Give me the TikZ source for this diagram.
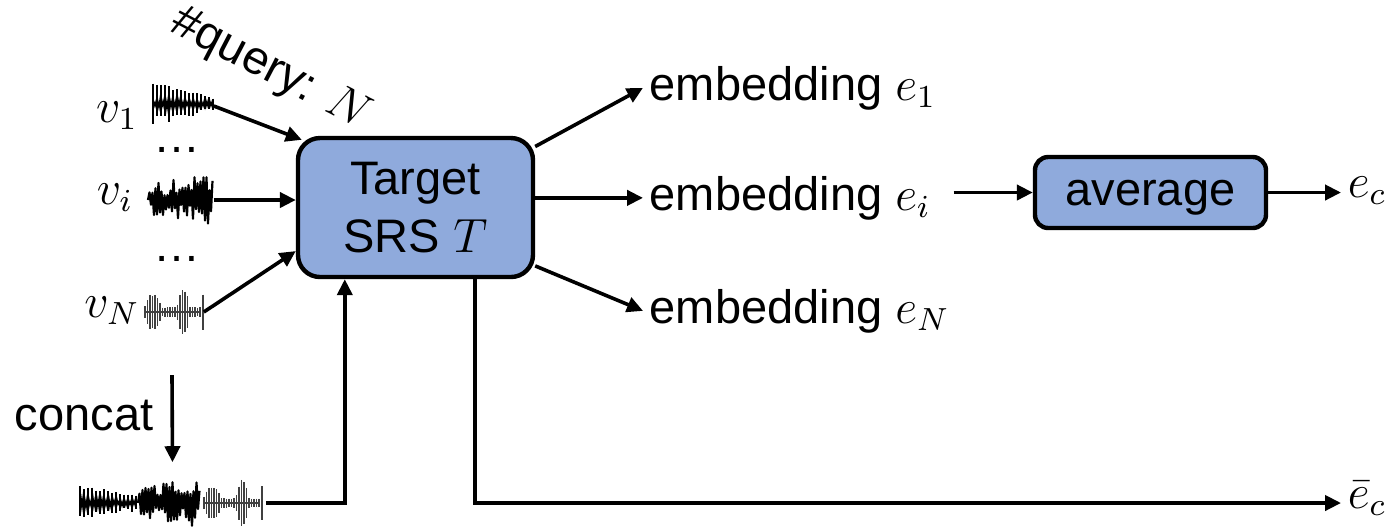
\documentclass[tikz,border=0pt]{standalone}
\usepackage{fontspec}
\setmainfont{Liberation Sans}
\usetikzlibrary{arrows.meta,calc}
\definecolor{boxblue}{HTML}{8FAADC}
\definecolor{wavegray}{HTML}{404040}
\newcommand{\dgfont}{\fontsize{11.75}{14.5}\selectfont}
% spiky decaying waveform: x0, number of spikes, yc, amp, decay
\newcommand{\wavespike}[5]{%
  \foreach \wk in {0,...,#2}{%
    \pgfmathsetmacro{\wt}{\wk/#2}%
    \pgfmathsetmacro{\wx}{#1+4*\wk}%
    \pgfmathsetmacro{\wa}{#4*(1-#5*\wt)*(0.8+0.2*rnd)}%
    \pgfmathsetmacro{\wb}{\wa*(0.6+0.5*rnd)}%
    \draw[wave] (\wx,#3-\wa) -- (\wx,#3+\wb);%
  }%
  \pgfmathtruncatemacro{\wm}{4*#2}%
  \draw[wave, line width=0.4pt] (#1,#3) \foreach \wk in {1,...,\wm} { -- ({#1+\wk},{#3+cos(180*\wk)*5*(1-0.5*\wk/\wm)*(0.3+0.7*rnd)}) };%
}
% noisy waveform (zigzag): x0, n, yc, amp
\newcommand{\wavenoise}[4]{%
  \draw[wave, line width=0.55pt, line join=round] (#1,#3) \foreach \wk in {1,...,#2} { -- ({#1+1.5*\wk},{#3+cos(180*\wk)*#4*(0.6+0.4*\wk/#2)*(0.2+0.8*rnd)}) };%
}
% two-burst waveform: x0, n, yc, amp
\newcommand{\waveburst}[4]{%
  \draw[wave, wavegray, line width=0.4pt] (#1,#3) -- (#1+2.5*#2,#3);%
  \foreach \wk in {0,...,#2}{%
    \pgfmathsetmacro{\wt}{\wk/#2}%
    \pgfmathsetmacro{\wx}{#1+2.5*\wk}%
    \pgfmathsetmacro{\we}{0.2+0.55*max(0,1-((\wt-0.15)/0.16)^2)+0.8*max(0,1-((\wt-0.7)/0.12)^2)}%
    \pgfmathsetmacro{\wa}{#4*\we*(0.85+0.15*rnd)}%
    \draw[wave, wavegray, line width=0.45pt] (\wx,#3-\wa) -- (\wx,#3+\wa);%
  }%
  \draw[wave, wavegray, line width=0.45pt] (#1+2.5*#2+3,#3-0.7*#4) -- (#1+2.5*#2+3,#3+0.7*#4);%
}
\tikzset{
  blk/.style={draw=black, line width=1.1pt, fill=boxblue, rounded corners=5.5pt,
    inner sep=0pt, align=center, font=\dgfont},
  conn/.style={line width=0.9pt, -{Triangle[length=4pt,width=3.8pt]}},
  lbl/.style={inner sep=1.5pt, font=\dgfont},
  wave/.style={line width=0.3pt, black},
  wavebox/.style={inner sep=0pt, minimum height=11.5pt},
}
\begin{document}
\begin{tikzpicture}[x=0.25pt, y=-0.25pt]
\useasboundingbox (0,0) rectangle (1396,529);
\pgfmathsetseed{12345}

% main box
\node[blk, minimum width=58.75pt, minimum height=34.75pt] (box) at (415.5,207.5) {Target\\SRS $T$};
\node[blk, rounded corners=3.3pt, minimum width=57.75pt, minimum height=17.75pt,
  text height=6.5pt, text depth=0pt] (avg) at (1150.5,192.5) {average};

% input labels
\node[inner sep=0pt, font=\dgfont] (v1) at (117,116) {$v_1$};
\node[inner sep=0pt, font=\dgfont] (vi) at (115,198) {$v_i$};
\node[inner sep=0pt, font=\dgfont] (vN) at (112,311) {$v_N$};
\node[inner sep=0pt, font=\dgfont] (d1) at (177,150) {\ldots};
\node[inner sep=0pt, font=\dgfont] (d2) at (177,259) {\ldots};
\node[inner sep=0pt, font=\dgfont, rotate=-27.5] (q) at (270,70) {\#query: $N$};
\node[inner sep=0pt, font=\dgfont, anchor=base] (cc) at (84,430) {concat};

% waveform holders
\node[wavebox, minimum width=15.25pt] (w1) at (182.5,106) {};
\node[wavebox, minimum width=16.25pt] (wi) at (180.5,200) {};
\node[wavebox, minimum width=14.5pt] (wN) at (174,312) {};
\node[wavebox, minimum width=46.25pt, minimum height=20pt] (wc) at (172.5,503) {};

% waveforms
\wavespike{153}{15}{104}{22}{0.7}
\wavenoise{148}{43}{200}{27}
\waveburst{145}{22}{312}{25}
\wavespike{80}{14}{503}{18}{0.55}
\wavenoise{138}{41}{503}{26}
\waveburst{204}{22}{503}{24}

% output labels
\node[lbl, anchor=base west] (e1) at (643,100) {embedding $e_1$};
\node[lbl, anchor=base west] (ei) at (643,210) {embedding $e_i$};
\node[lbl, anchor=base west] (eN) at (643,323) {embedding $e_N$};
\node[lbl, anchor=base west] (ec) at (1341,197) {$e_c$};
\node[lbl, anchor=base west] (ebar) at (1341,508) {$\bar{e}_c$};

\coordinate (cs) at (172,375);

% connectors
\draw[conn] (w1.east) -- ($(box.north west)+(6,4)$);
\draw[conn] (wi.east) -- (wi.east -| box.west);
\draw[conn] (wN.east) -- (box.200);
\draw[conn] (box.27) -- (e1.west);
\draw[conn] (box.east |- ei.west) -- (ei.west);
\draw[conn] (box.-26) -- (eN.west);
\draw[conn] ($(avg.west -| ei.east)+(16,0)$) -- (avg.west);
\draw[conn] (avg.east) -- (avg.east -| ec.west);
\draw[conn] (cs) -- (wc.north);
\draw[conn] (wc.east) -| ($(box.south west)+(49,0)$);
\draw[conn] ($(box.south west)+(179,0)$) |- (ebar.west |- wc.east);
\end{tikzpicture}
\end{document}
